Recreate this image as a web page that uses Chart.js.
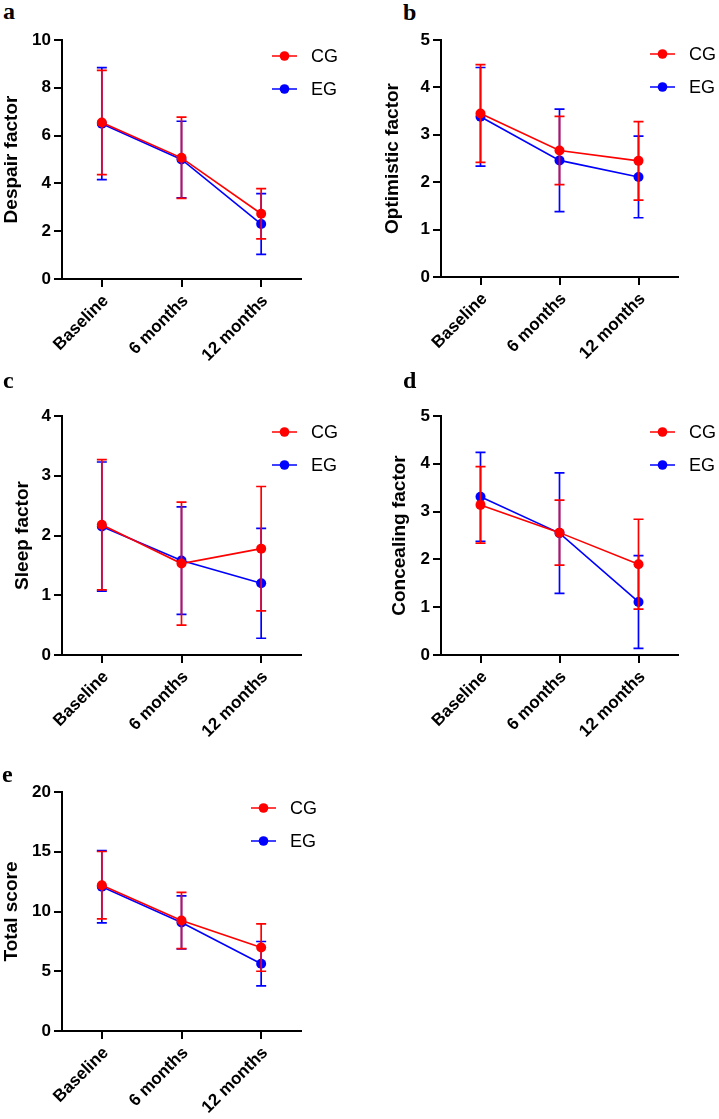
<!DOCTYPE html>
<html>
<head>
<meta charset="utf-8">
<script src="https://cdn.jsdelivr.net/npm/chart.js"></script>
<style>
  body { margin: 0; background: #fff; }
  #fig { position: relative; width: 719px; height: 1119px; overflow: hidden; }
  canvas { position: absolute; }
  .tag { position: absolute; font: bold 24px "Liberation Serif", "Times New Roman", serif; line-height: 1; color: #000; }
</style>
</head>
<body>
<div id="fig"></div>
<script>
// Data
const timepoints = ['Baseline', '6 months', '12 months'];
const groups = ['CG', 'EG'];

const despairCG = [6.55, 5.07, 2.73];
const despairCGsd = [2.18, 1.70, 1.05];
const despairEG = [6.50, 5.00, 2.30];
const despairEGsd = [2.34, 1.60, 1.27];

const optimisticCG = [3.45, 2.67, 2.45];
const optimisticCGsd = [1.03, 0.72, 0.83];
const optimisticEG = [3.38, 2.46, 2.11];
const optimisticEGsd = [1.04, 1.08, 0.86];

const sleepCG = [2.18, 1.53, 1.78];
const sleepCGsd = [1.09, 1.03, 1.04];
const sleepEG = [2.15, 1.58, 1.20];
const sleepEGsd = [1.08, 0.90, 0.92];

const concealingCG = [3.14, 2.56, 1.90];
const concealingCGsd = [0.80, 0.68, 0.94];
const concealingEG = [3.31, 2.55, 1.11];
const concealingEGsd = [0.93, 1.26, 0.97];

const totalCG = [12.2, 9.25, 6.98];
const totalCGsd = [2.82, 2.35, 1.98];
const totalEG = [12.07, 9.08, 5.63];
const totalEGsd = [3.03, 2.22, 1.86];

const FONT = '"Liberation Sans", Arial, Helvetica, sans-serif';
const RED = 'rgb(255, 0, 0)';
const BLUE = 'rgb(0, 0, 255)';

// Panel layout (canvas box, axis position, legend position)
const panels = [
  { tag: 'a', tagX: 3, tagY: -1.5, title: 'Despair factor', max: 10, step: 2,
    cg: despairCG, cgSd: despairCGsd, eg: despairEG, egSd: despairEGsd,
    cx: 0, cy: 0, cw: 360, ch: 380, padLeft: 0, axisX: 62, top: 40, bottom: 279, right: 301,
    legX: 272, legY: 56 },
  { tag: 'b', tagX: 403, tagY: -0.5, title: 'Optimistic factor', max: 5, step: 1,
    cg: optimisticCG, cgSd: optimisticCGsd, eg: optimisticEG, egSd: optimisticEGsd,
    cx: 360, cy: 0, cw: 359, ch: 380, padLeft: 21.6, axisX: 441, top: 40, bottom: 277, right: 678,
    legX: 650, legY: 54 },
  { tag: 'c', tagX: 3, tagY: 368, title: 'Sleep factor', max: 4, step: 1,
    cg: sleepCG, cgSd: sleepCGsd, eg: sleepEG, egSd: sleepEGsd,
    cx: 0, cy: 380, cw: 360, ch: 380, padLeft: 11.6, axisX: 62, top: 416, bottom: 655, right: 301,
    legX: 272, legY: 432 },
  { tag: 'd', tagX: 403, tagY: 368, title: 'Concealing factor', max: 5, step: 1,
    cg: concealingCG, cgSd: concealingCGsd, eg: concealingEG, egSd: concealingEGsd,
    cx: 360, cy: 380, cw: 359, ch: 380, padLeft: 28.6, axisX: 441, top: 416, bottom: 655, right: 678,
    legX: 650, legY: 432 },
  { tag: 'e', tagX: 2, tagY: 761.5, title: 'Total score', max: 20, step: 5,
    cg: totalCG, cgSd: totalCGsd, eg: totalEG, egSd: totalEGsd,
    cx: 0, cy: 760, cw: 360, ch: 359, padLeft: 0.6, axisX: 62, top: 792, bottom: 1031, right: 301,
    legX: 251, legY: 808 }
];

// Error bars drawn after each dataset so the CG bars sit on top
const errorBars = {
  id: 'errorBars',
  afterDatasetDraw(chart, args) {
    const ds = chart.data.datasets[args.index];
    const y = chart.scales.y;
    const ctx = chart.ctx;
    ctx.save();
    ctx.strokeStyle = ds.borderColor;
    ctx.lineWidth = 1.7;
    args.meta.data.forEach((pt, i) => {
      const hi = y.getPixelForValue(ds.data[i] + ds.sd[i]);
      const lo = y.getPixelForValue(ds.data[i] - ds.sd[i]);
      ctx.beginPath();
      ctx.moveTo(pt.x, hi); ctx.lineTo(pt.x, lo);
      ctx.moveTo(pt.x - 5, hi); ctx.lineTo(pt.x + 5, hi);
      ctx.moveTo(pt.x - 5, lo); ctx.lineTo(pt.x + 5, lo);
      ctx.stroke();
    });
    ctx.restore();
  }
};

// Legend: line with a dot, label to the right
const sideLegend = {
  id: 'sideLegend',
  afterDraw(chart, args, opts) {
    const ctx = chart.ctx;
    ctx.save();
    chart.data.datasets.forEach((ds, i) => {
      const y = opts.y + i * 33;
      ctx.strokeStyle = ds.borderColor;
      ctx.fillStyle = ds.borderColor;
      ctx.lineWidth = 1.5;
      ctx.beginPath();
      ctx.moveTo(opts.x, y); ctx.lineTo(opts.x + 25, y);
      ctx.stroke();
      ctx.beginPath();
      ctx.arc(opts.x + 12.5, y, 4.8, 0, Math.PI * 2);
      ctx.fill();
      ctx.fillStyle = '#000';
      ctx.font = '18px ' + FONT;
      ctx.textBaseline = 'middle';
      ctx.fillText(ds.label, opts.x + 39, y + 1);
    });
    ctx.restore();
  }
};

const fig = document.getElementById('fig');

panels.forEach(p => {
  const tag = document.createElement('div');
  tag.className = 'tag';
  tag.textContent = p.tag;
  tag.style.left = p.tagX + 'px';
  tag.style.top = p.tagY + 'px';
  fig.appendChild(tag);

  const canvas = document.createElement('canvas');
  canvas.width = p.cw;
  canvas.height = p.ch;
  canvas.style.left = p.cx + 'px';
  canvas.style.top = p.cy + 'px';
  fig.appendChild(canvas);

  const axisGrid = { display: true, drawOnChartArea: false, drawTicks: true, tickLength: 8, color: '#000', lineWidth: 2 };
  const axisBorder = { display: true, color: '#000', width: 2 };

  new Chart(canvas, {
    type: 'line',
    data: {
      labels: timepoints,
      datasets: [
        { label: groups[0], data: p.cg, sd: p.cgSd, borderColor: RED, backgroundColor: RED,
          borderWidth: 1.6, pointRadius: 5, pointBorderWidth: 0, tension: 0, order: 0 },
        { label: groups[1], data: p.eg, sd: p.egSd, borderColor: BLUE, backgroundColor: BLUE,
          borderWidth: 1.6, pointRadius: 5, pointBorderWidth: 0, tension: 0, order: 1 }
      ]
    },
    options: {
      responsive: false,
      animation: false,
      devicePixelRatio: 1,
      layout: {
        padding: { left: p.padLeft, top: p.top - p.cy, right: p.cx + p.cw - p.right, bottom: 0 }
      },
      plugins: {
        legend: { display: false },
        tooltip: { enabled: false },
        sideLegend: { x: p.legX - p.cx, y: p.legY - p.cy }
      },
      scales: {
        x: {
          type: 'category',
          offset: true,
          border: axisBorder,
          grid: axisGrid,
          ticks: { color: '#000', font: { family: FONT, size: 17, weight: 'bold' },
                   minRotation: 45, maxRotation: 45, autoSkip: false, padding: 4, labelOffset: 4 },
          afterFit: s => { s.height = p.ch - (p.bottom - p.cy); }
        },
        y: {
          min: 0,
          max: p.max,
          border: axisBorder,
          grid: axisGrid,
          ticks: { stepSize: p.step, color: '#000', font: { family: FONT, size: 17, weight: 'bold' }, padding: 3 },
          title: { display: true, text: p.title, color: '#000',
                   font: { family: FONT, size: 19, weight: 'bold' }, padding: 0 },
          afterFit: s => { s.width = p.axisX - p.cx - p.padLeft; }
        }
      }
    },
    plugins: [errorBars, sideLegend]
  });
});
</script>
</body>
</html>
